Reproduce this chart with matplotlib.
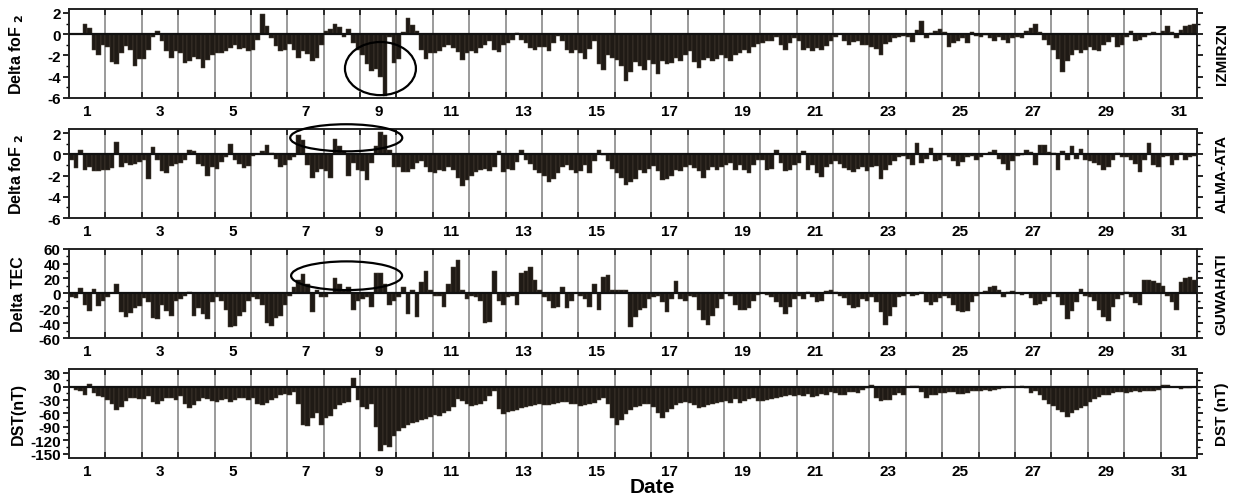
import numpy as np
import matplotlib
matplotlib.use("Agg")
import matplotlib.pyplot as plt
from matplotlib.patches import Ellipse

plt.rcParams['font.family'] = ['Liberation Sans', 'DejaVu Sans']
plt.rcParams['font.weight'] = 'bold'
plt.rcParams['mathtext.default'] = 'bf'

# 3-hourly values, 8 per day, days 1..31
izmir = [
    0, 0, 0, 1.0, 0.6, -1.5, -2.0, -1.0,
    -1.2, -2.6, -2.8, -1.8, -1.1, -1.5, -3.0, -2.3,
    -2.3, -1.5, -0.3, 0.3, -0.6, -1.6, -2.2, -1.6,
    -1.8, -2.7, -2.5, -2.1, -2.3, -3.2, -2.4, -2.0,
    -1.8, -1.8, -1.6, -1.3, -1.0, -1.4, -1.3, -1.6,
    -1.5, -0.5, 1.9, 0.8, -0.4, -1.1, -1.6, -1.5,
    -0.9, -1.5, -2.2, -1.6, -1.9, -2.5, -2.2, -1.0,
    0.3, 0.5, 1.0, 0.7, -0.3, 0.5, -0.8, -1.5,
    -2.0, -2.8, -3.5, -3.3, -4.0, -5.8, -0.3, -2.7,
    -2.3, 0.2, 1.5, 0.9, 0.3, -1.5, -2.3, -1.8,
    -1.8, -1.6, -1.2, -1.0, -1.3, -1.7, -2.4, -1.8,
    -1.6, -1.8, -1.3, -1.0, -0.6, -1.5, -1.7, -1.0,
    -0.8, -0.5, 0.1, -0.5, -0.8, -1.3, -1.5, -1.2,
    -1.2, -1.6, -0.8, -0.2, -0.6, -1.5, -1.8, -1.5,
    -1.8, -2.3, -1.4, -0.6, -2.8, -3.4, -2.0, -2.2,
    -2.4, -3.0, -4.4, -3.6, -2.6, -3.0, -3.4, -2.4,
    -2.8, -3.7, -2.5, -2.8, -2.7, -2.2, -2.5, -2.0,
    -1.6, -2.6, -3.2, -2.4, -2.2, -2.5, -2.3, -2.0,
    -2.2, -2.5, -2.0, -1.8, -1.5, -1.8, -1.2, -0.9,
    -0.8, -0.6, -0.6, -0.3, -1.0, -1.5, -0.8, -0.4,
    -0.6, -1.5, -1.3, -1.6, -1.3, -1.5, -1.1, -0.6,
    -0.3, 0.0, -0.6, -1.0, -0.7, -0.6, -1.0, -1.0,
    -1.2, -1.4, -2.0, -0.9, -0.7, -0.4, -0.3, -0.2,
    -0.3, -0.7, 0.4, 1.2, -0.4, 0.1, 0.3, 0.5,
    0.2, -1.2, -0.8, -0.6, -0.4, -0.8, 0.2, -0.2,
    -0.3, -0.1, -0.4, -0.6, -0.3, -0.5, -0.8, -0.4,
    -0.3, -0.4, 0.3, 0.6, 1.0, 0.2, -0.5, -1.0,
    -1.5, -2.3, -3.6, -2.5, -2.0, -1.5, -1.8, -1.5,
    -1.2, -1.5, -1.6, -1.0, -0.7, -0.3, -1.2, -1.0,
    -0.3, 0.3, -0.6, -0.5, -0.3, -0.1, 0.2, 0.0,
    0.3, 0.8, 0.2, -0.4, 0.4, 0.8, 0.9, 1.0,
]

alma = [
    -0.5, -1.3, 0.4, -1.5, -1.2, -1.6, -1.6, -1.5,
    -1.5, -1.3, 1.2, -1.2, -0.8, -1.0, -0.9, -0.7,
    -0.5, -2.3, 0.7, -0.5, -1.6, -1.8, -1.1, -0.9,
    -0.8, -0.5, 0.4, 0.3, -0.9, -1.1, -2.0, -1.2,
    -1.4, -0.7, -0.3, 1.0, -0.5, -0.9, -1.3, -1.1,
    -0.2, 0.0, 0.3, 0.9, 0.1, -0.4, -1.2, -1.0,
    -0.5, -0.3, 1.8, 1.3, -1.0, -2.2, -1.7, -1.4,
    -1.6, -2.2, 1.4, 0.8, 0.3, -2.0, -0.8, -1.5,
    -1.6, -2.4, -0.8, 0.8, 2.1, 1.8, 0.4, -1.2,
    -1.2, -1.7, -1.7, -1.4, -0.8, -0.6, -1.2, -1.7,
    -1.8, -1.5, -1.6, -1.2, -1.5, -2.2, -3.0, -2.4,
    -2.0, -1.7, -1.5, -1.4, -1.6, -1.2, 0.3, -1.7,
    -1.4, -1.5, -0.7, 0.4, -0.5, -0.9, -1.5, -1.8,
    -2.0, -2.6, -2.3, -1.8, -1.2, -1.0, -1.5, -1.8,
    -1.6, -1.0, -1.8, -0.6, 0.4, -0.1, -0.6, -1.4,
    -1.8, -2.2, -2.9, -2.6, -2.3, -1.5, -1.8, -1.4,
    -1.1, -1.6, -2.4, -2.3, -2.0, -1.5, -1.6, -1.2,
    -1.0, -1.3, -1.6, -2.2, -1.5, -1.2, -1.5, -1.2,
    -1.0, -0.8, -1.5, -1.0, -1.5, -1.8, -1.0, -0.5,
    -0.5, -1.5, -1.4, 0.4, -0.8, -1.6, -1.5, -1.0,
    -0.8, 0.3, -1.5, -1.0, -1.8, -2.1, -1.2, -0.9,
    -0.6, -0.9, -1.3, -1.5, -1.7, -1.4, -1.2, -1.6,
    -1.2, -1.1, -2.3, -1.5, -1.0, -0.6, -0.3, -0.2,
    -0.4, -1.0, 1.1, -0.8, -0.4, 0.6, -0.6, -0.5,
    -0.1, -0.3, -0.6, -1.1, -0.7, -0.3, -0.2, -0.5,
    -0.3, 0.0, 0.2, 0.4, -0.4, -0.9, -1.5, -0.6,
    -0.2, -0.1, 0.4, 0.2, -1.0, 0.9, 0.9, 0.2,
    0.1, -1.5, 0.3, -0.5, 0.8, -0.4, 0.5, -0.5,
    -0.6, -0.8, -1.0, -1.5, -1.2, -0.5, 0.1, -0.3,
    -0.3, -0.5, -0.9, -1.7, -0.5, 1.1, -1.0, -1.2,
    -0.3, -0.2, -1.0, -0.5, 0.1, -0.5, -0.3, -0.2,
]

guwahati = [
    -5, -6, 7, -15, -24, 6, -17, -10,
    -5, 0, 12, -25, -32, -26, -20, -17,
    -6, -12, -33, -35, -16, -24, -30, -10,
    -8, -4, 2, -30, -20, -28, -35, -12,
    -5, -10, -22, -45, -44, -30, -25, -10,
    -5, -8, -15, -40, -44, -33, -30, -15,
    -4, 8, 18, 26, 12, -25, 4, -5,
    -5, 0, 20, 12, 4, 8, -22, -10,
    -8, -5, -18, 28, 28, 12, -15, -10,
    -5, 8, -28, 5, -32, 15, 30, 5,
    -4, -3, -18, 12, 35, 45, 5, -8,
    -3, -5, -10, -40, -38, 30, -10, -15,
    -5, -3, -15, 28, 30, 36, 18, 5,
    -5, -10, -20, -18, 8, -20, -10, 0,
    -3, -8, -18, 12, -22, 22, 25, 5,
    4, 5, 5, -45, -32, -22, -20, -8,
    -5, -3, -12, -25, -8, 16, -8, -10,
    -3, -5, -22, -36, -42, -30, -20, -8,
    0, -4, -15, -22, -22, -20, -10, -2,
    0, -2, -5, -12, -18, -28, -18, -8,
    -3, -8, 2, -5, -12, -10, 3, 5,
    2, -3, -6, -16, -20, -18, -8, -10,
    -5, -12, -25, -42, -30, -18, -5, -3,
    0, -3, -2, 2, -12, -16, -12, -6,
    -3, -6, -16, -24, -25, -24, -12, -4,
    0, 3, 8, 10, 5, -5, 2, 3,
    0, -2, 0, -6, -15, -14, -10, -5,
    0, -5, -15, -35, -24, -12, 6, -3,
    -5, -10, -22, -32, -37, -18, -8, -2,
    2, -5, -13, -15, 18, 18, 16, 14,
    10, -3, -12, -22, 15, 20, 22, 18,
]

dst = [
    -2, -8, -10, -18, 6, -15, -22, -24,
    -30, -40, -52, -45, -32, -25, -26, -28,
    -28, -22, -35, -38, -32, -26, -26, -30,
    -22, -40, -48, -42, -32, -26, -28, -32,
    -35, -30, -28, -34, -30, -25, -26, -30,
    -25, -38, -42, -36, -30, -25, -18, -16,
    -20, -12, -40, -85, -88, -70, -60, -85,
    -70, -65, -50, -42, -36, -35, 20, -30,
    -45, -50, -40, -90, -145, -130, -135, -110,
    -100, -92, -86, -82, -80, -76, -72, -68,
    -63, -66, -60, -55, -45, -28, -32, -40,
    -44, -42, -38, -32, -22, -10, -50, -62,
    -56, -54, -52, -49, -46, -44, -41, -38,
    -42, -42, -40, -37, -34, -35, -38, -40,
    -43, -41, -39, -36, -30, -26, -40, -70,
    -85, -75, -62, -52, -46, -43, -40, -38,
    -45, -60, -70, -58, -50, -42, -36, -34,
    -36, -42, -48, -46, -42, -40, -37, -35,
    -33, -36, -28, -36, -32, -28, -26, -32,
    -32, -30, -28, -26, -24, -21, -18, -22,
    -20, -22, -16, -24, -22, -16, -19, -12,
    -14, -18, -20, -13, -12, -14, -8, -4,
    4, -25, -33, -31, -30, -20, -15, -18,
    -2, 2, 1, -12, -26, -18, -18, -15,
    -14, -13, -12, -16, -16, -14, -11, -9,
    -11, -8, -9, -7, -6, -4, -2, -1,
    0, 1, -4, -14, -10, -20, -30, -38,
    -44, -52, -56, -68, -60, -53, -48, -44,
    -35, -28, -24, -20, -18, -15, -12, -12,
    -15, -13, -11, -12, -11, -10, -9, -7,
    3, 4, 0, -2, -6, -4, -3, -2,
]

days = list(range(1, 32))
day_labels = [str(d) for d in days if d % 2 == 1]
station_names = ["IZMIRZN", "ALMA-ATA", "GUWAHATI", "DST (nT)"]
ylabels = [r"Delta foF$_{\ 2}$", r"Delta foF$_{\ 2}$", "Delta TEC", "DST(nT)"]
series = [izmir, alma, guwahati, dst]
ylims = [(-6, 2.4), (-6, 2.4), (-60, 60), (-160, 40)]
yticks = [[-6, -4, -2, 0, 2], [-6, -4, -2, 0, 2],
          [-60, -40, -20, 0, 20, 40, 60], [-150, -120, -90, -60, -30, 0, 30]]
yminor = [1, 1, 10, 15]
# ellipses: (panel, x-center(day), y-center, width(days), height)
ellipses = [(0, 8.56, -3.23, 1.95, 5.0), (1, 7.62, 1.55, 3.08, 2.55), (2, 7.63, 23.7, 3.05, 38.6)]

fig = plt.figure(figsize=(12.36, 5.02), dpi=100)
bottoms = [0.8028, 0.5637, 0.3247, 0.0857]
left, width, height = 0.0558, 0.9126, 0.1778

bar_color = '#1f1a15'
axes = []
for i, (vals, bot) in enumerate(zip(series, bottoms)):
    ax = fig.add_axes([left, bot, width, height])
    axes.append(ax)
    v = np.asarray(vals, dtype=float)
    n = len(v)
    x = (np.arange(n) + 0.5) / 8.0
    ax.bar(x, v, width=1 / 8.0, color=bar_color, edgecolor='#4a4238', linewidth=0.35, zorder=2)
    ax.set_xlim(0, 31)
    ax.set_ylim(*ylims[i])
    # day boundary grid
    for b in range(1, 31):
        ax.axvline(b, color='#8a8a8a', lw=1.2, zorder=1)
    ax.axhline(0, color='#111111', lw=1.6, zorder=3)
    ax.set_xticks(range(1, 31))
    ax.set_xticklabels([])
    ax.tick_params(axis='x', which='major', direction='in', length=4, width=1.3,
                   top=True, bottom=True, color='#222222')
    ax.set_xticks([d - 0.5 for d in days if d % 2 == 1], minor=True)
    ax.set_xticklabels(day_labels, minor=True, fontsize=11, fontweight='bold')
    ax.tick_params(axis='x', which='minor', length=0, pad=4)
    ax.set_yticks(yticks[i])
    ax.set_yticklabels([str(t) for t in yticks[i]], fontsize=11, fontweight='bold')
    lo, hi = ylims[i]
    ax.set_yticks(np.arange(yticks[i][0], hi + 0.001, yminor[i]), minor=True)
    ax.tick_params(axis='y', which='major', direction='out', length=4, width=1.2,
                   left=True, right=True, pad=2)
    ax.tick_params(axis='y', which='minor', direction='out', length=2.5, width=1.0,
                   left=True, right=True)
    for s in ax.spines.values():
        s.set_linewidth(1.4)
        s.set_color('#222222')
    ax.set_ylabel(ylabels[i], fontsize=11.5, fontweight='bold')
    ax.yaxis.set_label_coords(-0.038, 0.5)
    ax.text(1.022, 0.5, station_names[i], transform=ax.transAxes, rotation=90,
            ha='center', va='center', fontsize=11, fontweight='bold')

for (p, xc, yc, w, h) in ellipses:
    e = Ellipse((xc, yc), w, h, fill=False, edgecolor='black', lw=1.6,
                clip_on=False, zorder=5)
    axes[p].add_patch(e)

fig.text(0.528, 0.028, "Date", ha='center', va='center', fontsize=15, fontweight='bold')

fig.savefig("out.png", dpi=100)
